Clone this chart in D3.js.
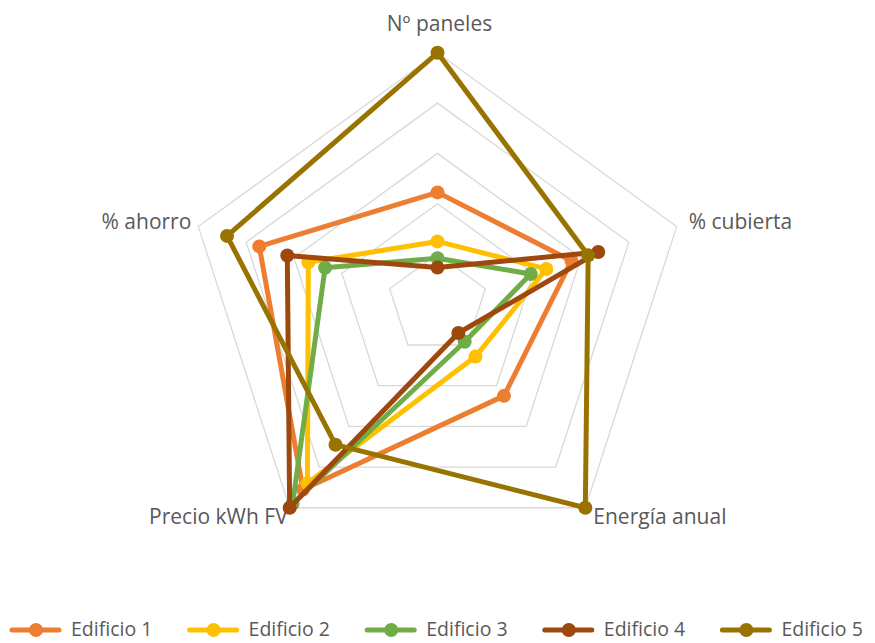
<!DOCTYPE html>
<html>
<head>
<meta charset="utf-8">
<script src="https://cdn.jsdelivr.net/npm/d3@7"></script>
<style>
  html, body { margin: 0; padding: 0; background: #fff; }
  svg { display: block; }
  text { font-family: "Open Sans", "Noto Sans", sans-serif; fill: #595959; }
</style>
</head>
<body>
<svg id="chart" width="875" height="643"></svg>
<script>
// Radar axes (clockwise from the top)
const axes = ["Nº paneles", "% cubierta", "Energía anual", "Precio kWh FV", "% ahorro"];

// Normalised values per building, in axis order
const edificio1 = [0.445, 0.56, 0.45, 0.91, 0.745];
const edificio2 = [0.25, 0.455, 0.257, 0.88, 0.54];
const edificio3 = [0.183, 0.39, 0.184, 0.98, 0.47];
const edificio4 = [0.146, 0.672, 0.141, 1.0, 0.628];
const edificio5 = [1.0, 0.63, 1.0, 0.69, 0.88];

const seriesNames = ["Edificio 1", "Edificio 2", "Edificio 3", "Edificio 4", "Edificio 5"];
const seriesValues = [edificio1, edificio2, edificio3, edificio4, edificio5];
const seriesColors = ["#ED7D31", "#FFC000", "#70AD47", "#9E480E", "#997300"];

// Gridline levels
const gridTicks = [0.2, 0.4, 0.6, 0.8, 1.0];

const svg = d3.select("#chart");
const cx = 437.5, cy = 304.3, R = 251.5;

const r = d3.scaleLinear().domain([0, 1]).range([0, R]);
const angle = d3.scalePoint().domain(axes).range([0, 2 * Math.PI * (axes.length - 1) / axes.length]);

const g = svg.append("g").attr("transform", `translate(${cx},${cy})`);

const radial = d3.lineRadial()
  .angle((d, i) => angle(axes[i]))
  .radius(d => r(d))
  .curve(d3.curveLinearClosed);

// Pentagonal gridlines
g.selectAll("path.grid")
  .data(gridTicks)
  .join("path")
  .attr("class", "grid")
  .attr("d", t => radial(axes.map(() => t)))
  .attr("fill", "none")
  .attr("stroke", "#D9D9D9")
  .attr("stroke-width", 1.3);

// Axis category labels
const labelPos = {
  "Nº paneles":    { dx: 2,   dy: -27, anchor: "middle" },
  "% cubierta":    { dx: 12,  dy: -3,  anchor: "start" },
  "Energía anual": { dx: 8,   dy: 11,  anchor: "start" },
  "Precio kWh FV": { dx: -2,  dy: 11,  anchor: "end" },
  "% ahorro":      { dx: -7,  dy: -3,  anchor: "end" }
};
g.selectAll("text.axis")
  .data(axes)
  .join("text")
  .attr("class", "axis")
  .attr("x", a => r(1) * Math.sin(angle(a)) + labelPos[a].dx)
  .attr("y", a => -r(1) * Math.cos(angle(a)) + labelPos[a].dy)
  .attr("text-anchor", a => labelPos[a].anchor)
  .attr("dominant-baseline", "middle")
  .attr("font-size", 21)
  .text(a => a);

// Series polygons and markers
const series = g.selectAll("g.series")
  .data(seriesValues)
  .join("g")
  .attr("class", "series");

series.append("path")
  .attr("d", d => radial(d))
  .attr("fill", "none")
  .attr("stroke", (d, i) => seriesColors[i])
  .attr("stroke-width", 5)
  .attr("stroke-linejoin", "round");

series.each(function(vals, si) {
  d3.select(this).selectAll("circle")
    .data(vals)
    .join("circle")
    .attr("cx", (v, i) => r(v) * Math.sin(angle(axes[i])))
    .attr("cy", (v, i) => -r(v) * Math.cos(angle(axes[i])))
    .attr("r", 7)
    .attr("fill", seriesColors[si]);
});

// Legend
const legend = svg.append("g").attr("transform", "translate(0,630)");
const item = legend.selectAll("g")
  .data(seriesNames)
  .join("g")
  .attr("transform", (d, i) => `translate(${12 + i * 177.6},0)`);
item.append("line")
  .attr("x1", 0).attr("x2", 47)
  .attr("y1", 0).attr("y2", 0)
  .attr("stroke", (d, i) => seriesColors[i])
  .attr("stroke-width", 5)
  .attr("stroke-linecap", "round");
item.append("circle")
  .attr("cx", 24).attr("cy", 0).attr("r", 7)
  .attr("fill", (d, i) => seriesColors[i]);
item.append("text")
  .attr("x", 59).attr("y", 1)
  .attr("dominant-baseline", "middle")
  .attr("font-size", 19.5)
  .text(d => d);
</script>
</body>
</html>
